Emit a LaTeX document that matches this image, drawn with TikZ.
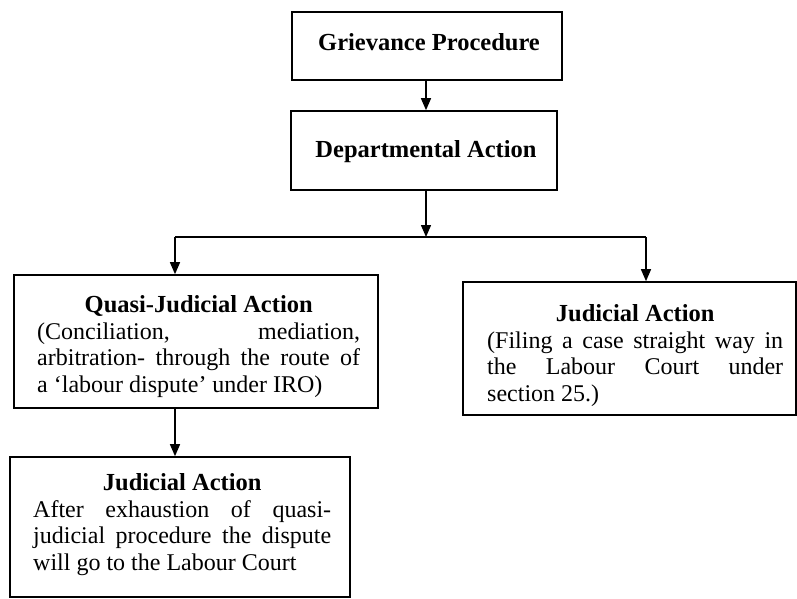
\documentclass[tikz,border=0pt]{standalone}
\usepackage{fontspec}
\setmainfont{Liberation Serif}
\usetikzlibrary{arrows.meta}
\begin{document}
\begin{tikzpicture}[x=1pt,y=1pt,
  box/.style={draw, line width=1.6pt, inner sep=0pt},
  arr/.style={line width=1.4pt, -{Triangle[length=12pt,width=10pt]}},
  conn/.style={line width=1.4pt},
  title/.style={font=\fontsize{24.5}{28}\selectfont\bfseries, inner sep=0pt},
  body/.style={font=\fontsize{24}{26.8}\selectfont, inner sep=0pt, anchor=north west, align=justify}
]
\useasboundingbox (0,0) rectangle (797,598);
% boxes
\node[box, minimum width=270pt, minimum height=68pt] (b1) at (427,552) {};
\node[box, minimum width=266pt, minimum height=79pt] (b2) at (424,447.5) {};
\node[box, minimum width=364pt, minimum height=133pt] (b3) at (196,256.5) {};
\node[box, minimum width=340pt, minimum height=140pt] (b4) at (180,71) {};
\node[box, minimum width=333pt, minimum height=133pt] (b5) at (629.5,249.5) {};
% texts
\node[title] (t1) at (429,556) {Grievance Procedure};
\node[title] (t2) at (426,446) {Departmental Action};
\node[body, text width=323pt] (t3) at (37,303) {\hfil\textbf{\fontsize{24.5}{26.8}\selectfont Quasi-Judicial Action}\hfil\break (Conciliation, mediation,\linebreak arbitration- through the route of\linebreak a `labour dispute' under IRO)};
\node[body, text width=298pt] (t4) at (33,125) {\hfil\textbf{\fontsize{24.5}{26.8}\selectfont Judicial Action}\hfil\break After exhaustion of quasi-\linebreak judicial procedure the dispute\linebreak will go to the Labour Court};
\node[body, text width=296pt] (t5) at (487,294) {\hfil\textbf{\fontsize{24.5}{26.8}\selectfont Judicial Action}\hfil\break (Filing a case straight way in\linebreak the Labour Court under\linebreak section 25.)};
% connectors
\coordinate (j) at (426,361);
\coordinate (l) at (175,361);
\coordinate (r) at (646,361);
\draw[arr] (b1.south -| j) -- (b2.north -| j);
\draw[arr] (b2.south -| j) -- (j);
\draw[conn] (l) -- (r);
\draw[arr] (l) -- (l |- b3.north);
\draw[arr] (r) -- (r |- b5.north);
\draw[arr] (b3.south -| l) -- (b4.north -| l);
\end{tikzpicture}
\end{document}
